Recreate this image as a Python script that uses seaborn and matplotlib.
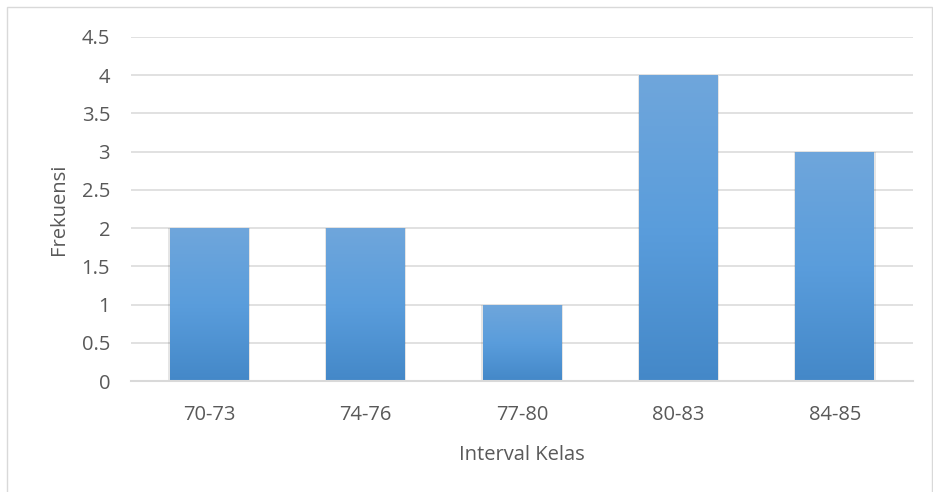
import numpy as np
import pandas as pd
import matplotlib.pyplot as plt
import matplotlib.patches as mpatches
from matplotlib.colors import LinearSegmentedColormap
import seaborn as sns

# data
kelas = ['70-73', '74-76', '77-80', '80-83', '84-85']
frekuensi = [2, 2, 1, 4, 3]

df = pd.DataFrame({'Interval Kelas': kelas, 'Frekuensi': frekuensi})

sns.set_theme(style="white")
plt.rcParams['font.family'] = ['Open Sans', 'DejaVu Sans']

fig = plt.figure(figsize=(9.33, 4.92), dpi=100)
ax = fig.add_axes([0.1404, 0.2256, 0.8382, 0.6992])

sns.barplot(data=df, x='Interval Kelas', y='Frekuensi', color='#5b9bd5',
            width=0.505, ax=ax, zorder=3)

# gradient fill like the Excel chart
cmap = LinearSegmentedColormap.from_list('grad', ['#4488c8', '#5a9ddc', '#6fa6db'])
grad = np.linspace(0, 1, 256).reshape(-1, 1)
for p in ax.patches:
    x0, y0 = p.get_x(), p.get_y()
    w, h = p.get_width(), p.get_height()
    # soft shadow
    sh = mpatches.Rectangle((x0 - 0.008, y0), w + 0.016, h - 0.005, facecolor='#000000',
                            alpha=0.10, edgecolor='none', zorder=2)
    ax.add_patch(sh)
    p.set_facecolor('none')
    p.set_edgecolor('none')
    im = ax.imshow(grad, extent=[x0, x0 + w, y0, y0 + h], origin='lower',
                   cmap=cmap, aspect='auto', zorder=3)
    im.set_clip_path(p)

ax.set_xlim(-0.5, len(kelas) - 0.5)
ax.set_ylim(0, 4.5)
ax.set_yticks(np.arange(0, 4.51, 0.5))
ax.set_yticklabels(['0', '0.5', '1', '1.5', '2', '2.5', '3', '3.5', '4', '4.5'])

ax.grid(axis='y', color='#d9d9d9', linewidth=1.1, zorder=0)
ax.set_axisbelow(True)
for s in ['top', 'right', 'left']:
    ax.spines[s].set_visible(False)
ax.spines['bottom'].set_color('#d9d9d9')
ax.spines['bottom'].set_linewidth(1.5)
ax.spines['bottom'].set_zorder(4)

ax.tick_params(axis='both', colors='#595959', labelsize=14.5, length=0)
ax.tick_params(axis='x', pad=17)
ax.tick_params(axis='y', pad=15)
ax.set_xlabel('Interval Kelas', fontsize=14.5, color='#595959', labelpad=15)
ax.set_ylabel('Frekuensi', fontsize=14.5, color='#595959', labelpad=9)

# chart border
fig.patches.append(mpatches.Rectangle((7 / 933, -0.01), 925 / 933, 1 - 7 / 492 + 0.01,
                                      transform=fig.transFigure, fill=False,
                                      edgecolor='#d9d9d9', linewidth=1))

fig.savefig('out.png', dpi=100)
